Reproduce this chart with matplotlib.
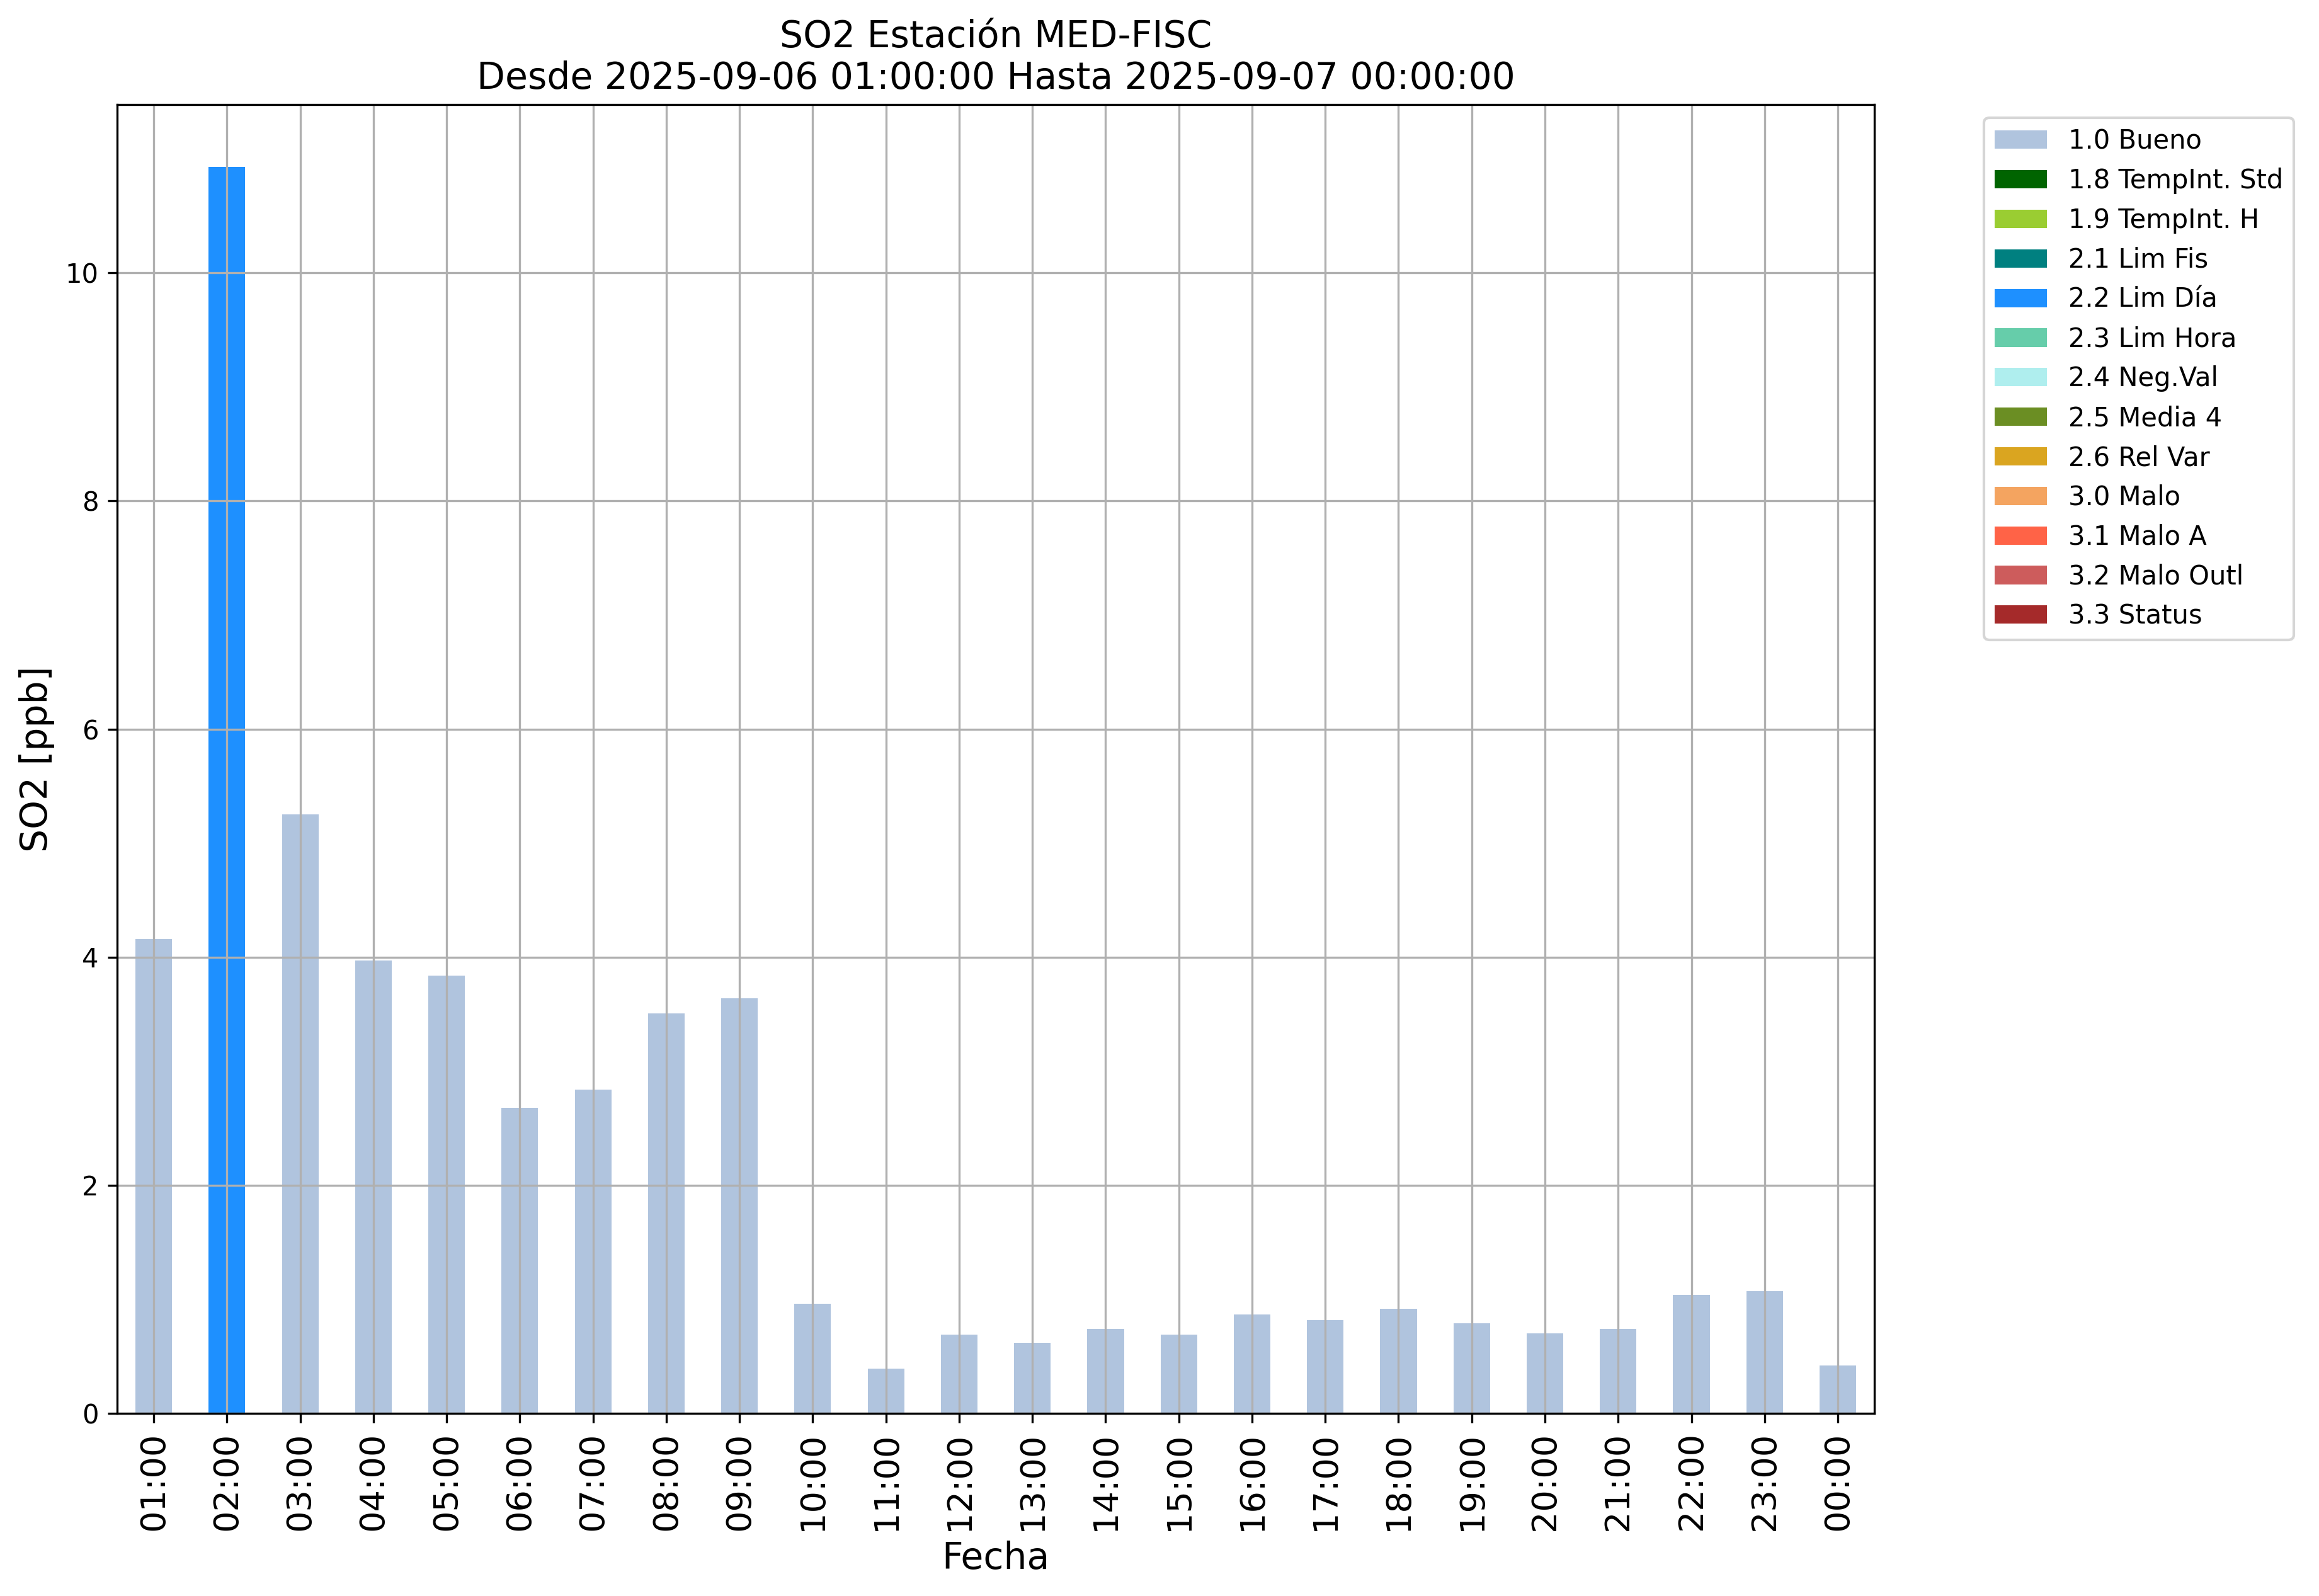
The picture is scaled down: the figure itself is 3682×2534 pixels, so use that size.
import numpy as np
import matplotlib
matplotlib.use("Agg")
import matplotlib.pyplot as plt

# ── Datos ────────────────────────────────────────────────────────────────
horas = ["01:00", "02:00", "03:00", "04:00", "05:00", "06:00", "07:00", "08:00",
         "09:00", "10:00", "11:00", "12:00", "13:00", "14:00", "15:00", "16:00",
         "17:00", "18:00", "19:00", "20:00", "21:00", "22:00", "23:00", "00:00"]
so2 = [4.16, 10.93, 5.25, 3.97, 3.84, 2.68, 2.84, 3.51,
       3.64, 0.96, 0.39, 0.69, 0.62, 0.74, 0.69, 0.87,
       0.82, 0.92, 0.79, 0.70, 0.74, 1.04, 1.07, 0.42]
flags = ["1.0", "2.2", "1.0", "1.0", "1.0", "1.0", "1.0", "1.0",
         "1.0", "1.0", "1.0", "1.0", "1.0", "1.0", "1.0", "1.0",
         "1.0", "1.0", "1.0", "1.0", "1.0", "1.0", "1.0", "1.0"]

codigos = ["1.0", "1.8", "1.9", "2.1", "2.2", "2.3", "2.4", "2.5",
           "2.6", "3.0", "3.1", "3.2", "3.3"]
nombres = ["Bueno", "TempInt. Std", "TempInt. H", "Lim Fis", "Lim Día", "Lim Hora",
           "Neg.Val", "Media 4", "Rel Var", "Malo", "Malo A", "Malo Outl", "Status"]
colores = ["lightsteelblue", "darkgreen", "yellowgreen", "teal", "dodgerblue",
           "mediumaquamarine", "paleturquoise", "olivedrab", "goldenrod",
           "sandybrown", "tomato", "indianred", "brown"]

# ── Figura ───────────────────────────────────────────────────────────────
fig = plt.figure(figsize=(3682 / 300, 2534 / 300), dpi=300)
ax = fig.add_axes([0.0505, 0.1144, 0.7578, 0.8201])

x = np.arange(len(horas))
valores = np.array(so2)
base = np.zeros(len(horas))
for cod, nom, col in zip(codigos, nombres, colores):
    alto = np.where(np.array(flags) == cod, valores, 0.0)
    ax.bar(x, alto, width=0.5, bottom=base, color=col, label=f"{cod} {nom}")
    base += alto

ax.set_xlim(-0.5, len(horas) - 0.5)
ax.set_ylim(0, valores.max() * 1.05)
ax.set_xticks(x)
ax.set_xticklabels(horas, rotation=90, fontsize=13)
ax.tick_params(axis="y", labelsize=10)
ax.grid(True)

ax.set_title("SO2 Estación MED-FISC\nDesde 2025-09-06 01:00:00 Hasta 2025-09-07 00:00:00",
             fontsize=14)
ax.set_xlabel("Fecha", fontsize=14)
ax.set_ylabel("SO2 [ppb]", fontsize=14)
ax.legend(bbox_to_anchor=(1.055, 1), loc="upper left", fontsize=10)

fig.savefig("out.png", dpi=300)
